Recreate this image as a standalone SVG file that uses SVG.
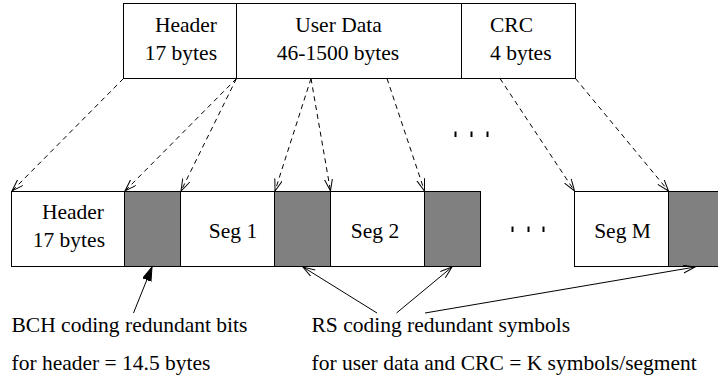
<svg xmlns="http://www.w3.org/2000/svg" width="718" height="381" viewBox="0 0 718 381">
<style>
.box{fill:#fff;stroke:#000;stroke-width:1}
.red{fill:#808080;stroke:#000;stroke-width:1}
.t{font-family:"Liberation Serif","Times New Roman",serif;font-size:21.5px;fill:#000}
.dash{stroke:#000;stroke-width:1;fill:none;stroke-dasharray:5 4}
.solid{stroke:#000;stroke-width:1;fill:none}
.tick{stroke:#000;stroke-width:2}
</style>
<defs>
<marker id="open" markerUnits="userSpaceOnUse" markerWidth="14" markerHeight="10" refX="12" refY="4" orient="auto" viewBox="0 0 14 10">
<path d="M0,0 L12,4 L0,8" fill="none" stroke="#000" stroke-width="1"/>
</marker>
<marker id="filled" markerUnits="userSpaceOnUse" markerWidth="16" markerHeight="10" refX="14" refY="4.5" orient="auto" viewBox="0 0 16 10">
<path d="M0,0 L14,4.5 L0,9 Z" fill="#000" stroke="#000" stroke-width="1"/>
</marker>
</defs>
<rect width="718" height="381" fill="#fff"/>

<g id="top-frame">
<rect class="box" x="123.5" y="3.5" width="452" height="75"/>
<line class="solid" x1="236.5" y1="3.5" x2="236.5" y2="78.5"/>
<line class="solid" x1="461.5" y1="3.5" x2="461.5" y2="78.5"/>
</g>
<g id="top-header">
<text class="t" x="217" y="32" text-anchor="end">Header</text>
<text class="t" x="217" y="60" text-anchor="end">17 bytes</text>
</g>
<g id="top-userdata">
<text class="t" x="338.5" y="32" text-anchor="middle">User Data</text>
<text class="t" x="338" y="60" text-anchor="middle">46-1500 bytes</text>
</g>
<g id="top-crc">
<text class="t" x="490" y="32">CRC</text>
<text class="t" x="490" y="60">4 bytes</text>
</g>
<g id="top-dots">
<line class="tick" x1="455.5" y1="131.5" x2="455.5" y2="137"/>
<line class="tick" x1="471.5" y1="131.5" x2="471.5" y2="137"/>
<line class="tick" x1="487.5" y1="131.5" x2="487.5" y2="137"/>
</g>

<g id="bottom-header">
<rect class="box" x="11.5" y="191.5" width="113" height="75"/>
<text class="t" x="104" y="219" text-anchor="end">Header</text>
<text class="t" x="105" y="247" text-anchor="end">17 bytes</text>
</g>
<g id="bch-red">
<rect class="red" x="124.5" y="191.5" width="56" height="75"/>
</g>
<g id="seg1">
<rect class="box" x="180.5" y="191.5" width="94" height="75"/>
<text class="t" x="233" y="238" text-anchor="middle">Seg 1</text>
</g>
<g id="rs-red-1">
<rect class="red" x="274.5" y="191.5" width="56" height="75"/>
</g>
<g id="seg2">
<rect class="box" x="330.5" y="191.5" width="94" height="75"/>
<text class="t" x="375" y="238" text-anchor="middle">Seg 2</text>
</g>
<g id="rs-red-2">
<rect class="red" x="424.5" y="191.5" width="56" height="75"/>
</g>
<g id="bottom-dots">
<line class="tick" x1="512.5" y1="226.5" x2="512.5" y2="232"/>
<line class="tick" x1="528.5" y1="226.5" x2="528.5" y2="232"/>
<line class="tick" x1="543.5" y1="226.5" x2="543.5" y2="232"/>
</g>
<g id="segM">
<rect class="box" x="574.5" y="191.5" width="94" height="75"/>
<text class="t" x="622.5" y="238" text-anchor="middle">Seg M</text>
</g>
<g id="rs-red-M">
<rect class="red" x="668.5" y="191.5" width="56" height="75"/>
</g>

<g id="connectors">
<line class="dash" x1="123.5" y1="78.5" x2="12" y2="191" marker-end="url(#open)"/>
<line class="dash" x1="236.5" y1="78.5" x2="125" y2="191" marker-end="url(#open)"/>
<line class="dash" x1="236.5" y1="78.5" x2="181" y2="191" marker-end="url(#open)"/>
<line class="dash" x1="311" y1="78.5" x2="275" y2="191" marker-end="url(#open)"/>
<line class="dash" x1="311" y1="78.5" x2="330.5" y2="191" marker-end="url(#open)"/>
<line class="dash" x1="387" y1="78.5" x2="424.5" y2="191" marker-end="url(#open)"/>
<line class="dash" x1="500" y1="78.5" x2="574.5" y2="191" marker-end="url(#open)"/>
<line class="dash" x1="575.5" y1="78.5" x2="668.5" y2="191" marker-end="url(#open)"/>
<line class="solid" x1="133.5" y1="313" x2="152" y2="267" marker-end="url(#filled)"/>
<line class="solid" x1="377" y1="313" x2="303" y2="267" marker-end="url(#open)"/>
<line class="solid" x1="396.5" y1="313" x2="452" y2="267" marker-end="url(#open)"/>
<line class="solid" x1="425" y1="313" x2="695" y2="267" marker-end="url(#open)"/>
</g>

<g id="label-bch">
<text class="t" x="11.5" y="332">BCH coding redundant bits</text>
<text class="t" x="11.5" y="370">for header = 14.5 bytes</text>
</g>
<g id="label-rs">
<text class="t" x="311.5" y="332">RS coding redundant symbols</text>
<text class="t" x="311.5" y="370">for user data and CRC = K symbols/segment</text>
</g>
</svg>
